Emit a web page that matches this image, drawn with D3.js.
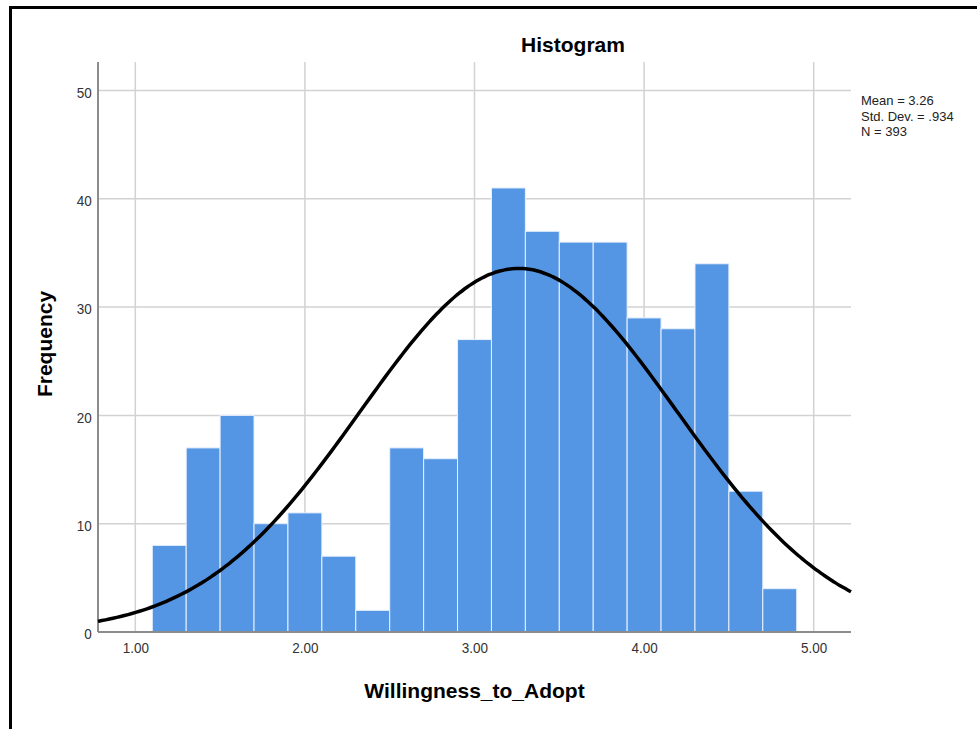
<!DOCTYPE html>
<html>
<head>
<meta charset="utf-8">
<script src="https://cdn.jsdelivr.net/npm/d3@7"></script>
<style>
  html, body { margin: 0; padding: 0; background: #fff; }
  svg { display: block; font-family: Arial, "Liberation Sans", sans-serif; }
</style>
</head>
<body>
<div id="chart"></div>
<script>
// histogram bins (lower edge), bin width 0.2
const binStarts = [1.1, 1.3, 1.5, 1.7, 1.9, 2.1, 2.3, 2.5, 2.7, 2.9, 3.1, 3.3, 3.5, 3.7, 3.9, 4.1, 4.3, 4.5, 4.7];
const counts = [8, 17, 20, 10, 11, 7, 2, 17, 16, 27, 41, 37, 36, 36, 29, 28, 34, 13, 4];
const binWidth = 0.2;
const xTicks = [1, 2, 3, 4, 5];
const yTicks = [0, 10, 20, 30, 40, 50];
const stats = { mean: 3.26, sd: 0.934, n: 393 };
const statLines = ["Mean = 3.26", "Std. Dev. = .934", "N = 393"];

const width = 977, height = 729;
const margin = { top: 62, right: 126, bottom: 97, left: 98 };

const svg = d3.select("#chart").append("svg")
    .attr("width", width)
    .attr("height", height);

// outer frame (only top and left edges visible)
svg.append("path")
    .attr("d", `M10.5,${height} V7.5 H${width}`)
    .attr("fill", "none")
    .attr("stroke", "#000")
    .attr("stroke-width", 3);

const x = d3.scaleLinear().domain([0.78, 5.22]).range([margin.left, width - margin.right]);
const y = d3.scaleLinear().domain([0, 52.63]).range([height - margin.bottom, margin.top]);

// grid
svg.append("g")
    .selectAll("line")
    .data(xTicks)
    .join("line")
    .attr("x1", d => x(d)).attr("x2", d => x(d))
    .attr("y1", y.range()[1]).attr("y2", y(0))
    .attr("stroke", "#d2d2d2")
    .attr("stroke-width", 1.5);

svg.append("g")
    .selectAll("line")
    .data(yTicks.filter(d => d > 0))
    .join("line")
    .attr("x1", x.range()[0]).attr("x2", x.range()[1])
    .attr("y1", d => y(d)).attr("y2", d => y(d))
    .attr("stroke", "#d2d2d2")
    .attr("stroke-width", 1.5);

// bars
svg.append("g")
    .selectAll("rect")
    .data(binStarts.map((b, i) => ({ x0: b, x1: b + binWidth, n: counts[i] })))
    .join("rect")
    .attr("x", d => x(d.x0))
    .attr("width", d => x(d.x1) - x(d.x0))
    .attr("y", d => y(d.n))
    .attr("height", d => y(0) - y(d.n))
    .attr("fill", "#5596e4")
    .attr("stroke", "#e8f1fc")
    .attr("stroke-width", 1);

// axes
const xAxis = svg.append("g")
    .attr("transform", `translate(0,${y(0)})`)
    .call(d3.axisBottom(x).tickValues(xTicks).tickFormat(d3.format(".2f")).tickSize(0).tickPadding(10));
const yAxis = svg.append("g")
    .attr("transform", `translate(${x.range()[0]},0)`)
    .call(d3.axisLeft(y).tickValues(yTicks).tickSize(0).tickPadding(7));

[xAxis, yAxis].forEach(g => {
    g.select(".domain").attr("stroke", "#8c8c8c").attr("stroke-width", 2);
    g.selectAll("text")
        .style("font-size", "15px")
        .style("fill", "#333")
        .attr("transform", "scale(0.9,1)");
});
yAxis.selectAll("text").attr("dy", "0.45em");
xAxis.select(".domain").attr("d", `M${x.range()[0]},0H${x.range()[1]}`);
yAxis.select(".domain").attr("d", `M0,${y.range()[1]}V${y(0)}`);

// normal curve
const curveX = d3.range(0, 201).map(i => x.domain()[0] + i * (x.domain()[1] - x.domain()[0]) / 200);
const normal = v => stats.n * binWidth / (stats.sd * Math.sqrt(2 * Math.PI)) *
    Math.exp(-0.5 * Math.pow((v - stats.mean) / stats.sd, 2));
svg.append("path")
    .datum(curveX)
    .attr("d", d3.line().x(d => x(d)).y(d => y(normal(d))).curve(d3.curveBasis))
    .attr("fill", "none")
    .attr("stroke", "#000")
    .attr("stroke-width", 3.5);

// titles
svg.append("text")
    .attr("x", 573).attr("y", 52)
    .attr("text-anchor", "middle")
    .style("font-size", "21px").style("font-weight", "bold")
    .text("Histogram");

svg.append("text")
    .attr("x", (x.range()[0] + x.range()[1]) / 2).attr("y", 698)
    .attr("text-anchor", "middle")
    .style("font-size", "21px").style("font-weight", "bold")
    .text("Willingness_to_Adopt");

svg.append("text")
    .attr("transform", "translate(52,344) rotate(-90)")
    .attr("text-anchor", "middle")
    .style("font-size", "21px").style("font-weight", "bold")
    .text("Frequency");

// stats box
svg.append("g")
    .selectAll("text")
    .data(statLines)
    .join("text")
    .attr("x", 861)
    .attr("y", (d, i) => 105 + i * 15.5)
    .style("font-size", "13px")
    .style("fill", "#222")
    .text(d => d);
</script>
</body>
</html>
